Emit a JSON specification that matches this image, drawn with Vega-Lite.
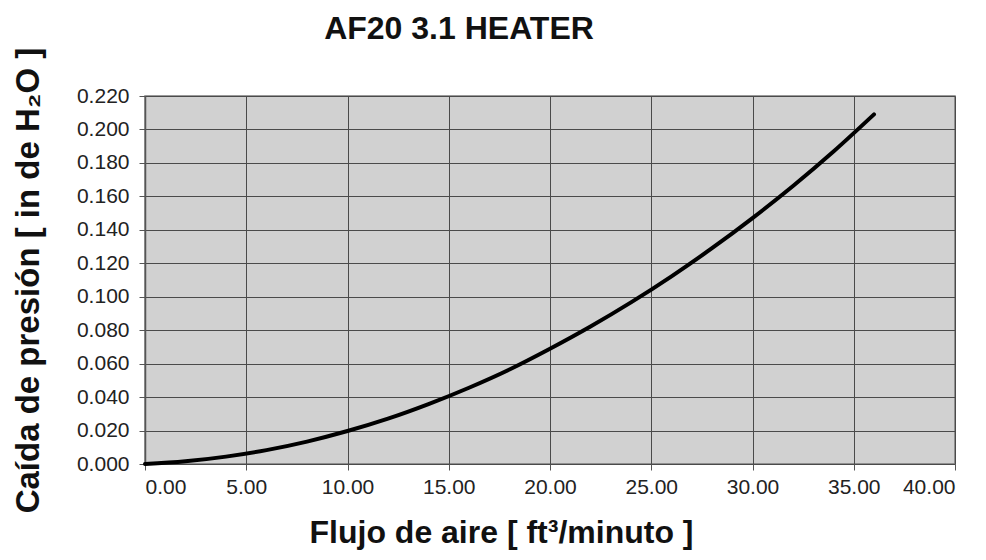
{
  "$schema": "https://vega.github.io/schema/vega-lite/v6.json",
  "width": 810,
  "height": 368,
  "autosize": {"type": "none"},
  "padding": {"left": 145, "top": 96, "right": 31, "bottom": 96},
  "background": "white",
  "title": {
    "text": "AF20 3.1 HEATER",
    "font": "Liberation Sans",
    "fontWeight": "bold",
    "fontSize": 32,
    "color": "#111111",
    "anchor": "middle",
    "dx": -91,
    "offset": -3
  },
  "config": {
    "view": {"fill": "#d1d1d1", "stroke": "#7a7a7a", "strokeWidth": 1.5},
    "axis": {
      "labelFont": "Liberation Sans",
      "labelFontSize": 21,
      "labelColor": "#222222",
      "titleFont": "Liberation Sans",
      "titleFontWeight": "bold",
      "titleFontSize": 32,
      "titleColor": "#111111",
      "gridColor": "#4a4a4a",
      "gridOpacity": 1,
      "gridWidth": 1,
      "tickColor": "#555555",
      "tickSize": 6,
      "domainColor": "#555555",
      "domainWidth": 1.5
    }
  },
  "data": {
    "values": [
      {"flujo": 0, "caida": 0.0},
      {"flujo": 2, "caida": 0.0016},
      {"flujo": 4, "caida": 0.0044},
      {"flujo": 6, "caida": 0.0083},
      {"flujo": 8, "caida": 0.0134},
      {"flujo": 10, "caida": 0.0197},
      {"flujo": 12, "caida": 0.0271},
      {"flujo": 14, "caida": 0.0358},
      {"flujo": 16, "caida": 0.0456},
      {"flujo": 18, "caida": 0.0565},
      {"flujo": 20, "caida": 0.0689},
      {"flujo": 22, "caida": 0.0822},
      {"flujo": 24, "caida": 0.0966},
      {"flujo": 26, "caida": 0.1122},
      {"flujo": 28, "caida": 0.1290},
      {"flujo": 30, "caida": 0.1470},
      {"flujo": 32, "caida": 0.1662},
      {"flujo": 34, "caida": 0.1868},
      {"flujo": 36, "caida": 0.2090}
    ]
  },
  "mark": {"type": "line", "color": "#000000", "strokeWidth": 4, "interpolate": "monotone", "strokeCap": "round"},
  "encoding": {
    "x": {
      "field": "flujo",
      "type": "quantitative",
      "scale": {"domain": [0, 40], "nice": false},
      "axis": {
        "values": [0, 5, 10, 15, 20, 25, 30, 35, 40],
        "format": ".2f",
        "title": "Flujo de aire [ ft³/minuto ]",
        "titleX": 356,
        "titleY": 78,
        "titleBaseline": "alphabetic",
        "titleAnchor": "middle",
        "labelPadding": 6,
        "domain": false
      }
    },
    "y": {
      "field": "caida",
      "type": "quantitative",
      "scale": {"domain": [0, 0.22], "nice": false},
      "axis": {
        "values": [0, 0.02, 0.04, 0.06, 0.08, 0.1, 0.12, 0.14, 0.16, 0.18, 0.2, 0.22],
        "format": ".3f",
        "title": "Caída de presión [ in  de H₂O ]",
        "titleFontSize": 33,
        "titleAngle": 270,
        "titleX": -107,
        "titleY": 184,
        "titleBaseline": "alphabetic",
        "titleAlign": "center",
        "labelPadding": 10
      }
    }
  }
}
